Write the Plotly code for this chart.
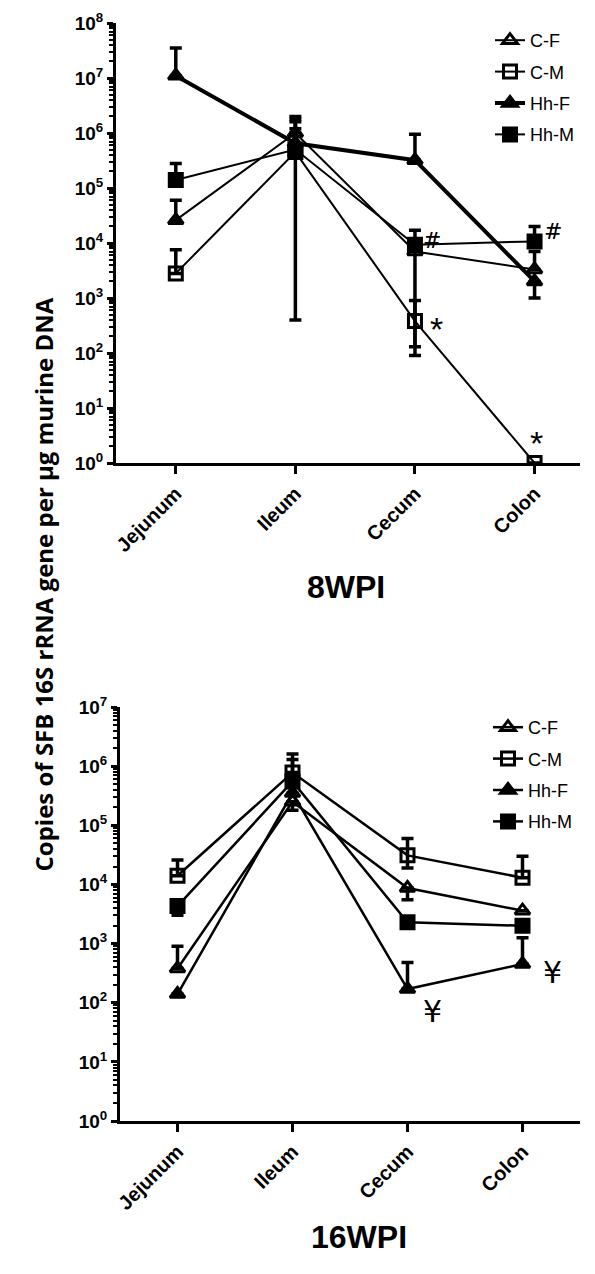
import plotly.graph_objects as go

sites = ["Jejunum", "Ileum", "Cecum", "Colon"]
groups = ["C-F", "C-M", "Hh-F", "Hh-M"]

# 8WPI means and error-bar ends
w8_CF = [2.6e4, 1.0e6, 7.0e3, 3.3e3]
w8_CF_hi = [6.0e4, 1.6e6, 1.2e4, 7.0e3]
w8_CF_lo = [2.6e4, 1.0e6, 7.0e3, 3.3e3]
w8_CM = [2.8e3, 4.5e5, 3.8e2, 1.0]
w8_CM_hi = [7.5e3, 1.2e6, 9.0e2, 1.0]
w8_CM_lo = [2.8e3, 4.5e5, 1.3e2, 1.0]
w8_HhF = [1.1e7, 6.5e5, 3.2e5, 2.0e3]
w8_HhF_hi = [3.5e7, 1.8e6, 9.5e5, 2.0e3]
w8_HhF_lo = [1.1e7, 6.5e5, 3.2e5, 1.0e3]
w8_HhM = [1.4e5, 5.0e5, 9.3e3, 1.07e4]
w8_HhM_hi = [2.8e5, 2.0e6, 1.7e4, 2.0e4]
w8_HhM_lo = [1.4e5, 4.0e2, 9.0e1, 1.07e4]

# 16WPI means and error-bar ends
w16_CF = [3.8e2, 2.5e5, 8.7e3, 3.6e3]
w16_CF_hi = [9.0e2, 2.5e5, 8.7e3, 3.6e3]
w16_CF_lo = [3.8e2, 1.8e5, 5.5e3, 3.6e3]
w16_CM = [1.4e4, 7.8e5, 3.1e4, 1.3e4]
w16_CM_hi = [2.6e4, 1.6e6, 6.0e4, 3.0e4]
w16_CM_lo = [1.4e4, 7.8e5, 1.9e4, 1.3e4]
w16_HhF = [1.4e2, 3.5e5, 1.7e2, 4.5e2]
w16_HhF_hi = [1.4e2, 3.5e5, 4.8e2, 1.25e3]
w16_HhF_lo = [1.4e2, 3.5e5, 1.7e2, 4.5e2]
w16_HhM = [4.3e3, 5.5e5, 2.3e3, 2.0e3]
w16_HhM_hi = [4.3e3, 1.3e6, 2.3e3, 2.0e3]
w16_HhM_lo = [3.0e3, 5.5e5, 2.3e3, 2.0e3]

symbols = ["triangle-up-open", "square-open", "triangle-up", "square"]

fig = go.Figure()


def add(vals, hi, lo, sym, name, xa, ya, legend, lw):
    fig.add_trace(go.Scatter(
        x=sites, y=vals, mode="lines+markers", name=name,
        xaxis=xa, yaxis=ya, legend=legend, legendgroup=name + xa,
        line=dict(color="black", width=lw),
        marker=dict(symbol=sym, size=13, color="black",
                    line=dict(color="black", width=3)),
        error_y=dict(type="data", symmetric=False,
                     array=[h - v for h, v in zip(hi, vals)],
                     arrayminus=[v - l for v, l in zip(vals, lo)],
                     color="black", thickness=3.5, width=6),
    ))


top = [(w8_CF, w8_CF_hi, w8_CF_lo), (w8_CM, w8_CM_hi, w8_CM_lo),
       (w8_HhF, w8_HhF_hi, w8_HhF_lo), (w8_HhM, w8_HhM_hi, w8_HhM_lo)]
bot = [(w16_CF, w16_CF_hi, w16_CF_lo), (w16_CM, w16_CM_hi, w16_CM_lo),
       (w16_HhF, w16_HhF_hi, w16_HhF_lo), (w16_HhM, w16_HhM_hi, w16_HhM_lo)]
top_lw = [2, 2, 4, 2]
for i, (v, h, l) in enumerate(top):
    add(v, h, l, symbols[i], groups[i], "x", "y", "legend", top_lw[i])
for i, (v, h, l) in enumerate(bot):
    add(v, h, l, symbols[i], groups[i], "x2", "y2", "legend2", 2.5)

# page body adds an 8px margin; lay out in page pixels minus that offset
OFF = 8
W, H = 595 - OFF, 1274 - OFF


def px(x):
    return (x - OFF) / W


def py(y):
    return 1 - (y - OFF) / H


tickfont = dict(family="Liberation Sans, Arial", size=19, color="black", weight="bold")


def yax(dom, hi_exp, anchor):
    return dict(
        type="log", domain=dom, range=[0, hi_exp], anchor=anchor, automargin=False,
        tickvals=[10 ** k for k in range(hi_exp + 1)],
        ticktext=["10<sup>%d</sup>" % k for k in range(hi_exp + 1)],
        ticklabeloverflow="allow",
        showline=True, linewidth=3, linecolor="black", mirror=False,
        ticks="outside", ticklen=6, tickwidth=3, tickcolor="black",
        minor=dict(ticks="outside", ticklen=4, tickwidth=1.5, tickcolor="black",
                   dtick="D1", showgrid=False),
        showgrid=False, zeroline=False, tickfont=tickfont,
    )


def xax(dom, anchor, rng):
    return dict(
        domain=dom, anchor=anchor, type="category", range=rng, automargin=False,
        ticklabeloverflow="allow",
        showline=True, linewidth=3, linecolor="black",
        ticks="outside", ticklen=8, tickwidth=3, tickcolor="black",
        tickangle=-45, showgrid=False, zeroline=False,
        tickfont=dict(family="Liberation Sans, Arial", size=20, color="black", weight="bold"),
    )


legfont = dict(family="Liberation Sans, Arial", size=18, color="black")
fig.update_layout(
    width=W, height=H, margin=dict(l=0, r=0, t=0, b=0, autoexpand=False),
    plot_bgcolor="white", paper_bgcolor="white",
    xaxis=xax([px(116), px(580)], "y", [-0.5, 3.38]),
    yaxis=yax([py(463), py(23)], 8, "x"),
    xaxis2=xax([px(120), px(580)], "y2", [-0.5, 3.5]),
    yaxis2=yax([py(1121), py(707)], 7, "x2"),
    legend=dict(x=px(490), y=py(22), xanchor="left", yanchor="top",
                bgcolor="rgba(0,0,0,0)", tracegroupgap=5, itemwidth=30,
                font=legfont),
    legend2=dict(x=px(488), y=py(709), xanchor="left", yanchor="top",
                 bgcolor="rgba(0,0,0,0)", tracegroupgap=5, itemwidth=30,
                 font=legfont),
    showlegend=True,
)

anns = [
    dict(x="Cecum", y=2.58, xref="x", yref="y", text="*", xshift=22, yshift=-8,
         font=dict(family="Liberation Sans", size=34, color="black")),
    dict(x="Colon", y=0, xref="x", yref="y", text="*", xshift=2, yshift=20,
         font=dict(family="Liberation Sans", size=34, color="black")),
    dict(x="Cecum", y=3.98, xref="x", yref="y", text="#", xshift=17, yshift=4,
         font=dict(family="DejaVu Serif", size=22, color="black")),
    dict(x="Colon", y=4.03, xref="x", yref="y", text="#", xshift=18, yshift=10,
         font=dict(family="DejaVu Serif", size=22, color="black")),
    dict(x="Cecum", y=2.23, xref="x2", yref="y2", text="¥", xshift=25, yshift=-22,
         font=dict(family="DejaVu Sans", size=30, color="black")),
    dict(x="Colon", y=2.65, xref="x2", yref="y2", text="¥", xshift=30, yshift=-8,
         font=dict(family="DejaVu Sans", size=30, color="black")),
    dict(x=px(346), y=py(587), xref="paper", yref="paper", text="<b>8WPI</b>",
         font=dict(family="Liberation Sans, Arial", size=32, color="black")),
    dict(x=px(359), y=py(1257), xref="paper", yref="paper", text="<b>16WPI</b>",
         font=dict(family="Liberation Sans, Arial", size=32, color="black")),
    dict(x=px(24), y=py(585), xref="paper", yref="paper", textangle=-90,
         text="<b>Copies of SFB 16S rRNA gene per µg murine DNA</b>",
         font=dict(family="Open Sans", size=24, color="black")),
]
for a in anns:
    a.setdefault("showarrow", False)
    fig.add_annotation(**a)

fig.write_html("out.html")
